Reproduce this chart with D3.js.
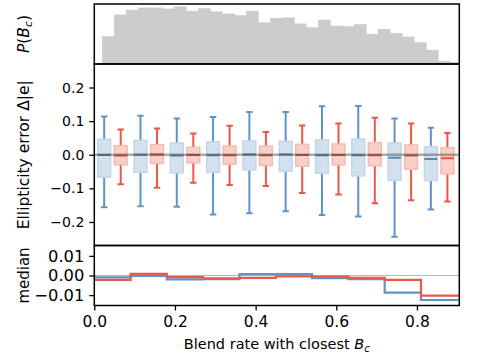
<!DOCTYPE html>
<html>
<head>
<meta charset="utf-8">
<script src="https://d3js.org/d3.v7.min.js"></script>
<style>
  body { margin: 0; background: white; }
  text { font-family: "DejaVu Sans", sans-serif; }
</style>
</head>
<body>
<div id="chart"></div>
<script>
// histogram of closest blend rate, 30 bins (density)
var histValues = [0.77, 1.38, 1.52, 1.58, 1.58, 1.55, 1.61, 1.49, 1.56, 1.47,
                  1.41, 1.36, 1.49, 1.16, 1.29, 1.30, 1.13, 1.02, 1.24, 1.07,
                  1.05, 1.11, 0.84, 0.98, 0.86, 0.76, 0.60, 0.39, 0.08, 0.04];
var histRange = [0.02, 0.912];

// blend rate bins for the box plots / medians
var binEdges = [0, 0.09, 0.18, 0.27, 0.36, 0.45, 0.54, 0.63, 0.72, 0.81, 0.9];

// [whisker low, q1, q3, whisker high]
var blueBoxes = [
  [-0.156, -0.067, 0.046, 0.114],
  [-0.153, -0.052, 0.043, 0.116],
  [-0.155, -0.054, 0.035, 0.108],
  [-0.178, -0.052, 0.038, 0.112],
  [-0.174, -0.045, 0.041, 0.127],
  [-0.168, -0.049, 0.040, 0.127],
  [-0.179, -0.055, 0.044, 0.144],
  [-0.184, -0.063, 0.047, 0.145],
  [-0.244, -0.076, 0.035, 0.108],
  [-0.163, -0.077, 0.024, 0.080]
];
var redBoxes = [
  [-0.088, -0.030, 0.027, 0.075],
  [-0.098, -0.026, 0.030, 0.078],
  [-0.083, -0.024, 0.022, 0.063],
  [-0.090, -0.028, 0.026, 0.086],
  [-0.093, -0.032, 0.026, 0.068],
  [-0.114, -0.034, 0.031, 0.087],
  [-0.118, -0.030, 0.032, 0.093],
  [-0.144, -0.033, 0.036, 0.110],
  [-0.135, -0.043, 0.029, 0.093],
  [-0.139, -0.057, 0.021, 0.065]
];
var blueMedian = [-0.0010, -0.0002, -0.0020, -0.0018, 0.0007, 0.0007, -0.0013, -0.0018, -0.0087, -0.0125];
var redMedian  = [-0.0022, 0.0008, -0.0008, -0.0014, -0.0012, -0.0004, -0.0006, -0.0012, -0.0022, -0.0103];

var midTicks = [-0.2, -0.1, 0.0, 0.1, 0.2];
var medTicks = [-0.01, 0.0, 0.01];
var xTicks = [0.0, 0.2, 0.4, 0.6, 0.8];

var blueLine = "#5f93c9", blueFill = "#d3e1ef", blueEdge = "#c3d6ea", blueMed = "#5a88bb";
var redLine = "#e8594a", redFill = "#f8d0c9", redEdge = "#f3bcb3", redMed = "#df5340";

var W = 479, H = 361;
var left = 94.3, right = 459.3;
var top1 = 4, bot1 = 64, bot2 = 245.5, bot3 = 305.5;

var svg = d3.select("#chart")
  .append("svg")
    .attr("width", W)
    .attr("height", H);

var x = d3.scaleLinear().domain([0, 0.905]).range([left, right]);
var yHist = d3.scaleLinear().domain([0, d3.max(histValues) * 1.05]).range([bot1, top1]);
var yMid = d3.scaleLinear().domain([-0.27, 0.27]).range([bot2, bot1]);
var yMed = d3.scaleLinear().domain([-0.0153, 0.0153]).range([bot3, bot2]);

var defs = svg.append("defs");
function clip(id, y0, y1){
  defs.append("clipPath").attr("id", id)
    .append("rect")
    .attr("x", left).attr("y", y0)
    .attr("width", right - left).attr("height", y1 - y0);
}
clip("c1", top1, bot1);
clip("c2", bot1, bot2);
clip("c3", bot2, bot3);

// ---- top panel: histogram
var binW = (histRange[1] - histRange[0]) / histValues.length;
svg.append("g").attr("clip-path", "url(#c1)")
  .selectAll("rect")
  .data(histValues)
  .enter()
  .append("rect")
    .attr("x", function(d,i){ return x(histRange[0] + i*binW) })
    .attr("width", function(d,i){ return x(histRange[0] + (i+1)*binW) - x(histRange[0] + i*binW) })
    .attr("y", function(d){ return yHist(d) })
    .attr("height", function(d){ return yHist(0) - yHist(d) })
    .attr("fill", "#cccccc")
    .attr("stroke", "#c4c4c4")
    .attr("stroke-width", 0.5);

// ---- middle panel: box plots
var g2 = svg.append("g").attr("clip-path", "url(#c2)");
var boxW = 0.032, capW = 0.016, off = 0.0205;

function boxes(data, med, dx, line, fill, edge, medCol){
  var gg = g2.append("g");
  var b = gg.selectAll(".b")
    .data(data)
    .enter()
    .append("g");
  function cx(i){ return (binEdges[i] + binEdges[i+1]) / 2 + dx }
  // whiskers
  b.append("line")
    .attr("x1", function(d,i){ return x(cx(i)) })
    .attr("x2", function(d,i){ return x(cx(i)) })
    .attr("y1", function(d){ return yMid(d[0]) })
    .attr("y2", function(d){ return yMid(d[1]) })
    .attr("stroke", line).attr("stroke-width", 2);
  b.append("line")
    .attr("x1", function(d,i){ return x(cx(i)) })
    .attr("x2", function(d,i){ return x(cx(i)) })
    .attr("y1", function(d){ return yMid(d[2]) })
    .attr("y2", function(d){ return yMid(d[3]) })
    .attr("stroke", line).attr("stroke-width", 2);
  // caps
  [0, 3].forEach(function(k){
    b.append("line")
      .attr("x1", function(d,i){ return x(cx(i) - capW/2) })
      .attr("x2", function(d,i){ return x(cx(i) + capW/2) })
      .attr("y1", function(d){ return yMid(d[k]) })
      .attr("y2", function(d){ return yMid(d[k]) })
      .attr("stroke", line).attr("stroke-width", 2);
  });
  // box
  b.append("rect")
    .attr("x", function(d,i){ return x(cx(i) - boxW/2) })
    .attr("width", x(boxW) - x(0))
    .attr("y", function(d){ return yMid(d[2]) })
    .attr("height", function(d){ return yMid(d[1]) - yMid(d[2]) })
    .attr("fill", fill)
    .attr("stroke", edge)
    .attr("stroke-width", 1.5);
  // median
  b.append("line")
    .attr("x1", function(d,i){ return x(cx(i) - boxW/2) })
    .attr("x2", function(d,i){ return x(cx(i) + boxW/2) })
    .attr("y1", function(d,i){ return yMid(med[i]) })
    .attr("y2", function(d,i){ return yMid(med[i]) })
    .attr("stroke", medCol).attr("stroke-width", 2);
}
boxes(blueBoxes, blueMedian, -off, blueLine, blueFill, blueEdge, blueMed);
boxes(redBoxes, redMedian, off, redLine, redFill, redEdge, redMed);

g2.append("line")
  .attr("x1", left).attr("x2", right)
  .attr("y1", yMid(0)).attr("y2", yMid(0))
  .attr("stroke", "#444").attr("stroke-opacity", 0.45)
  .attr("stroke-width", 2.5);

// ---- bottom panel: median steps
var g3 = svg.append("g").attr("clip-path", "url(#c3)");
g3.append("line")
  .attr("x1", left).attr("x2", right)
  .attr("y1", yMed(0)).attr("y2", yMed(0))
  .attr("stroke", "#b8b8b8").attr("stroke-width", 1);

function steps(med){
  var pts = med.map(function(d,i){ return [binEdges[i], d] });
  pts.push([x.domain()[1], med[med.length-1]]);
  return pts;
}
var stepLine = d3.line()
  .x(function(d){ return x(d[0]) })
  .y(function(d){ return yMed(d[1]) })
  .curve(d3.curveStepAfter);

g3.append("path")
  .datum(steps(blueMedian))
  .attr("fill", "none")
  .attr("stroke", blueLine)
  .attr("stroke-width", 2.2)
  .attr("d", stepLine);
g3.append("path")
  .datum(steps(redMedian))
  .attr("fill", "none")
  .attr("stroke", redLine)
  .attr("stroke-width", 2.2)
  .attr("d", stepLine);

// ---- frames and axes
[[top1, bot1], [bot1, bot2], [bot2, bot3]].forEach(function(p){
  svg.append("rect")
    .attr("x", left).attr("y", p[0])
    .attr("width", right - left).attr("height", p[1] - p[0])
    .attr("fill", "none")
    .attr("stroke", "black")
    .attr("stroke-width", 1.5);
});

function fmt(f){ return function(d){ return d3.format(f)(d).replace("-", "\u2212") } }
var yAxisMid = svg.append("g")
  .attr("transform", "translate(" + left + ",0)")
  .call(d3.axisLeft(yMid).tickValues(midTicks).tickSize(5).tickPadding(5).tickFormat(fmt(".1f")));
var yAxisMed = svg.append("g")
  .attr("transform", "translate(" + left + ",0)")
  .call(d3.axisLeft(yMed).tickValues(medTicks).tickSize(5).tickPadding(5).tickFormat(fmt(".2f")));
var xAxis = svg.append("g")
  .attr("transform", "translate(0," + bot3 + ")")
  .call(d3.axisBottom(x).tickValues(xTicks).tickSize(5).tickPadding(5).tickFormat(d3.format(".1f")));

[[yAxisMid, 14], [yAxisMed, 16.3], [xAxis, 15.5]].forEach(function(p){
  var a = p[0];
  a.select(".domain").remove();
  a.selectAll("line").attr("stroke-width", 1.3);
  a.selectAll("text")
    .style("font-family", "DejaVu Sans")
    .style("font-size", p[1] + "px")
    .attr("fill", "black");
});

// labels
function ylabel(txt, yc, fs){
  return svg.append("text")
    .attr("transform", "translate(29," + yc + ") rotate(-90)")
    .attr("text-anchor", "middle")
    .style("font-size", fs + "px")
    .text(txt);
}
var fs = 15.5;
var pl = svg.append("text")
  .attr("transform", "translate(29," + (top1 + bot1)/2 + ") rotate(-90)")
  .attr("text-anchor", "middle")
  .style("font-size", fs + "px");
pl.append("tspan").style("font-style", "italic").text("P");
pl.append("tspan").text("(");
pl.append("tspan").style("font-style", "italic").text("B");
pl.append("tspan").style("font-style", "italic").style("font-size", (fs*0.7) + "px").attr("dy", 3).text("c");
pl.append("tspan").attr("dy", -3).text(")");

ylabel("Ellipticity error \u0394|e|", (bot1 + bot2)/2, 15.5);
ylabel("median", (bot2 + bot3)/2, 15);

fs = 14.5;
var xl = svg.append("text")
  .attr("x", (left + right)/2)
  .attr("y", 348.5)
  .attr("text-anchor", "middle")
  .style("font-size", fs + "px");
xl.append("tspan").text("Blend rate with closest ");
xl.append("tspan").style("font-style", "italic").text("B");
xl.append("tspan").style("font-style", "italic").style("font-size", (fs*0.7) + "px").attr("dy", 3).text("c");
</script>
</body>
</html>
